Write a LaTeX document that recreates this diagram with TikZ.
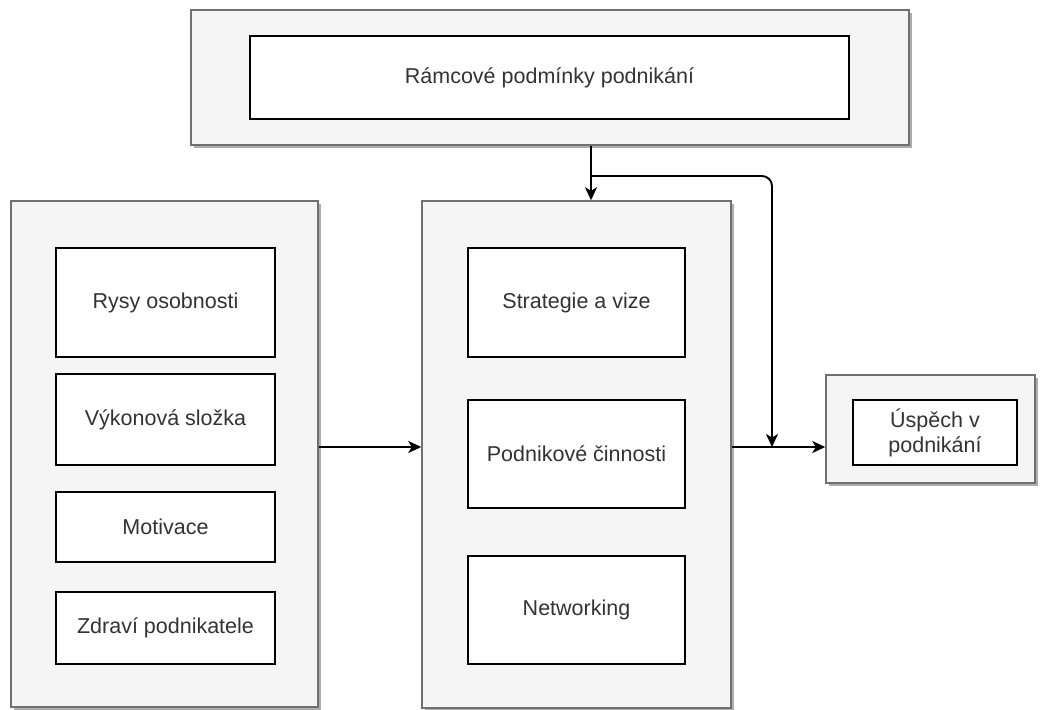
\documentclass[tikz,border=0pt]{standalone}
\usepackage{fontspec}
\setmainfont{Liberation Sans}
\usetikzlibrary{arrows.meta,shadows}
\definecolor{panelfill}{HTML}{F5F5F5}
\definecolor{panelline}{HTML}{707070}
\definecolor{txt}{HTML}{333333}
\begin{document}
\begin{tikzpicture}[x=1pt,y=-1pt,
  panel/.style={draw=panelline, fill=panelfill, line width=1.5pt, inner sep=0pt,
    drop shadow={shadow xshift=3pt, shadow yshift=-3pt, fill=black!32, opacity=1}},
  item/.style={draw=black, fill=white, line width=1.5pt, text=txt, inner sep=0pt,
    font=\fontsize{21.5}{25}\selectfont, align=center},
  conn/.style={line width=1.9pt, -{Stealth[length=13pt,width=12pt,inset=3.5pt]}}
]
\useasboundingbox (0,0) rectangle (1040,709);

% framework conditions
\node[panel, minimum width=718pt, minimum height=135pt] (T) at (550,77.5) {};
\node[item, minimum width=599pt, minimum height=83pt] (t1) at (549.5,77.5) {Rámcové podmínky podnikání};

% entrepreneur
\node[panel, minimum width=307pt, minimum height=506pt] (L) at (164.5,454) {};
\node[item, minimum width=219pt, minimum height=109pt] (l1) at (165.5,302.5) {Rysy osobnosti};
\node[item, minimum width=219pt, minimum height=91pt]  (l2) at (165.5,419.5) {Výkonová složka};
\node[item, minimum width=219pt, minimum height=70pt]  (l3) at (165.5,527) {Motivace};
\node[item, minimum width=219pt, minimum height=72pt]  (l4) at (165.5,628) {Zdraví podnikatele};

% business activity
\node[panel, minimum width=309pt, minimum height=507pt] (M) at (576.5,454.5) {};
\node[item, minimum width=217pt, minimum height=109pt] (m1) at (576.5,302.5) {Strategie a vize};
\node[item, minimum width=217pt, minimum height=108pt] (m2) at (576.5,454) {Podnikové činnosti};
\node[item, minimum width=217pt, minimum height=108pt] (m3) at (576.5,610) {Networking};

% outcome
\node[panel, minimum width=209pt, minimum height=108pt] (R) at (930.5,429) {};
\node[item, minimum width=164pt, minimum height=65pt] (r1) at (935,432.5) {Úspěch v\\podnikání};

% connector guides
\coordinate (row) at (0,447);
\coordinate (drop) at (591,176);
\coordinate (join) at (772,447);

\draw[conn] (L.east |- row) -- (M.west |- row);
\draw[conn] (M.east |- row) -- (R.west |- row);
\draw[conn] (T.south -| drop) -- (M.north -| drop);
\draw[conn, rounded corners=10pt] (drop) -- (drop -| join) -- (join);
\end{tikzpicture}
\end{document}
